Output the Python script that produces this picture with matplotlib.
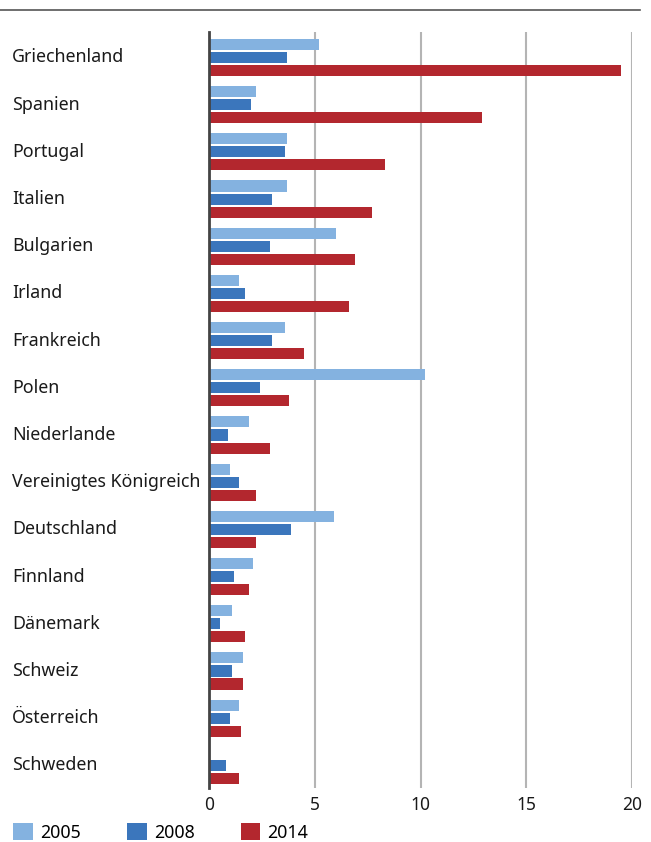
import matplotlib
matplotlib.use("Agg")
import matplotlib.pyplot as plt
from matplotlib.patches import Patch
from matplotlib.lines import Line2D
import numpy as np

plt.rcParams['font.family'] = ['Noto Sans', 'DejaVu Sans']

countries = ["Griechenland", "Spanien", "Portugal", "Italien", "Bulgarien",
             "Irland", "Frankreich", "Polen", "Niederlande",
             "Vereinigtes Königreich", "Deutschland", "Finnland", "Dänemark",
             "Schweiz", "Österreich", "Schweden"]
v2005 = [5.2, 2.2, 3.7, 3.7, 6.0, 1.4, 3.6, 10.2, 1.9, 1.0, 5.9, 2.1, 1.1, 1.6, 1.4, 0.0]
v2008 = [3.7, 2.0, 3.6, 3.0, 2.9, 1.7, 3.0, 2.4, 0.9, 1.4, 3.9, 1.2, 0.5, 1.1, 1.0, 0.8]
v2014 = [19.5, 12.9, 8.3, 7.7, 6.9, 6.6, 4.5, 3.8, 2.9, 2.2, 2.2, 1.9, 1.7, 1.6, 1.5, 1.4]
years = ["2005", "2008", "2014"]
colors = ["#84b2e0", "#3b76bc", "#b3272e"]

fig = plt.figure(figsize=(6.51, 8.42), dpi=100)
W, H = 651, 842
ax = fig.add_axes([209 / W, 1 - 788 / H, (632 - 209) / W, (788 - 32) / H])

y = np.arange(len(countries))
off = 0.277
h = 0.235
for vals, dy, c in zip([v2005, v2008, v2014], [-off, 0, off], colors):
    ax.barh(y + dy, vals, height=h, color=c, zorder=3)

ax.set_xlim(0, 20)
ax.set_ylim(len(countries) - 1 + 0.48, -0.54)
ax.set_xticks([0, 5, 10, 15, 20])
ax.grid(axis='x', color='#b4b4b4', linewidth=1.5, zorder=0)
for s in ['top', 'right', 'bottom']:
    ax.spines[s].set_visible(False)
ax.spines['left'].set_color('#444444')
ax.spines['left'].set_linewidth(2)
ax.spines['left'].set_zorder(4)
ax.tick_params(axis='x', length=0, labelsize=12.5, pad=6, colors='#1a1a1a')

ax.set_yticks(y)
ax.set_yticklabels(countries, ha='left')
ax.tick_params(axis='y', length=0, labelsize=12.8, pad=(209 - 12) * 0.72, colors='#1a1a1a')
for lab in ax.get_yticklabels():
    lab.set_verticalalignment('center')

# top rule
fig.add_artist(Line2D([0, 640 / W], [1 - 10 / H, 1 - 10 / H], color='#555555',
                      linewidth=1.2, transform=fig.transFigure))

handles = [Patch(facecolor=c, edgecolor='none', label=yr) for c, yr in zip(colors, years)]
fig.legend(handles=handles, loc='lower left', bbox_to_anchor=(1 / W, -12 / H),
           ncol=3, frameon=False, fontsize=12.8, handlelength=1.1, handleheight=1.1,
           handletextpad=0.4, columnspacing=2.6, borderaxespad=0.3)

fig.savefig("out.png", dpi=100)
